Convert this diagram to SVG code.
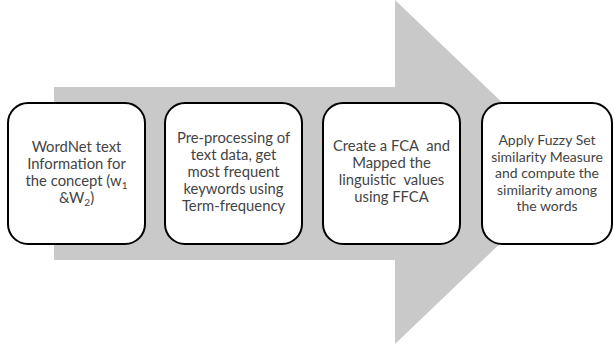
<svg xmlns="http://www.w3.org/2000/svg" width="614" height="345" viewBox="0 0 614 345">
<style>
.box{fill:#ffffff;stroke:#000000;stroke-width:2}
.t{font-family:Lato,"Liberation Sans",sans-serif;font-size:14.8px;fill:#444444;text-anchor:middle;white-space:pre}
.t4{font-size:14px}
.sub{font-size:10px}
</style>
<rect width="614" height="345" fill="#ffffff"/>
<g id="connectors">
<polygon points="54,87 395,87 395,0 575,172 395,344 395,260 54,260" fill="#c9c9c9"/>
</g>
<g id="node1">
<rect class="box" x="8" y="103" width="137" height="141" rx="20"/>
<text class="t" x="76.5" y="152">WordNet text</text>
<text class="t" x="76.5" y="169">Information for</text>
<text class="t" x="76.5" y="186">the concept (w<tspan class="sub" dy="3">1</tspan></text>
<text class="t" x="76.5" y="203">&amp;W<tspan class="sub" dy="3">2</tspan><tspan dy="-3">)</tspan></text>
</g>
<g id="node2">
<rect class="box" x="165" y="103" width="137" height="141" rx="20"/>
<text class="t" x="233.5" y="143">Pre-processing of</text>
<text class="t" x="233.5" y="160">text data, get</text>
<text class="t" x="233.5" y="177">most frequent</text>
<text class="t" x="233.5" y="194">keywords using</text>
<text class="t" x="233.5" y="211">Term-frequency</text>
</g>
<g id="node3">
<rect class="box" x="323" y="103" width="137" height="141" rx="20"/>
<text class="t" x="391.5" y="151" xml:space="preserve">Create a FCA  and</text>
<text class="t" x="391.5" y="168">Mapped the</text>
<text class="t" x="391.5" y="185" xml:space="preserve">linguistic  values</text>
<text class="t" x="391.5" y="202">using FFCA</text>
</g>
<g id="node4">
<rect class="box" x="482" y="103" width="130" height="141" rx="20"/>
<text class="t t4" x="547" y="145">Apply Fuzzy Set</text>
<text class="t t4" x="547" y="161.5">similarity Measure</text>
<text class="t t4" x="547" y="178">and compute the</text>
<text class="t t4" x="547" y="194.5">similarity among</text>
<text class="t t4" x="547" y="211">the words</text>
</g>
</svg>
